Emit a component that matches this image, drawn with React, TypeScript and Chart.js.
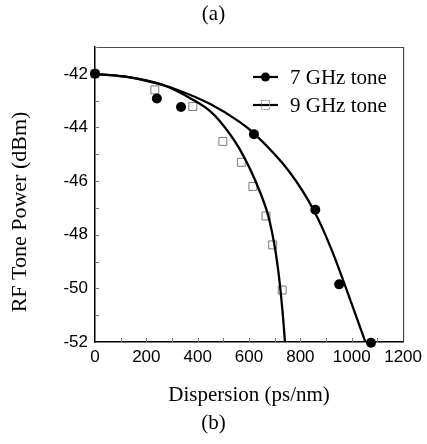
import React, { useEffect, useRef } from "react";
import { Chart, registerables } from "chart.js";

Chart.register(...registerables);

const xTickValues = [0, 200, 400, 600, 800, 1000, 1200];
const yTickValues = [-52, -50, -48, -46, -44, -42];

const seriesLabels = ["7 GHz tone", "9 GHz tone"];
const xTitle = "Dispersion (ps/nm)";
const yTitle = "RF Tone Power (dBm)";
const topCaption = "(a)";
const bottomCaption = "(b)";

const tone7Dispersion = [0, 241, 335, 619, 858, 951, 1075];
const tone7Power = [-42.0, -42.92, -43.24, -44.25, -47.07, -49.85, -52.03];

const tone9Dispersion = [0, 233, 381, 498, 570, 615, 666, 692, 729];
const tone9Power = [-42.0, -42.6, -43.22, -44.52, -45.3, -46.2, -47.3, -48.38, -50.06];

const fit7Dispersion = [0, 136, 241, 330, 447, 563, 617, 757, 851, 919, 1010, 1053];
const fit7Power = [-42.0, -42.13, -42.36, -42.63, -43.12, -43.79, -44.2, -45.65, -47.07, -48.5, -50.85, -52.0];

const fit9Dispersion = [0, 136, 252, 311, 369, 447, 485, 563, 641, 680, 711, 730, 740];
const fit9Power = [-42.0, -42.13, -42.37, -42.6, -42.9, -43.38, -43.75, -44.8, -46.37, -47.49, -49.13, -50.81, -52.0];

const pts = (xs: number[], ys: number[]) => xs.map((x, i) => ({ x, y: ys[i] }));

const SERIF = "'Liberation Serif', 'Times New Roman', serif";
const SANS = "'Liberation Sans', Arial, sans-serif";

const framePlugin = {
  id: "frameAndTicks",
  beforeDatasetsDraw(chart: any) {
    const { ctx, chartArea: a, scales } = chart;
    const xs = scales.x;
    const ys = scales.y;
    ctx.save();
    ctx.strokeStyle = "#4a4a4a";
    ctx.lineWidth = 1.2;
    ctx.beginPath();
    ctx.moveTo(a.left, a.top + 0.5);
    ctx.lineTo(a.right + 0.5, a.top + 0.5);
    ctx.lineTo(a.right + 0.5, a.bottom);
    ctx.stroke();
    ctx.strokeStyle = "#777";
    ctx.lineWidth = 1;
    ctx.beginPath();
    for (let v = -52; v <= -41; v += 1) {
      const y = Math.round(ys.getPixelForValue(v)) + 0.5;
      ctx.moveTo(a.left, y);
      ctx.lineTo(a.left + 4, y);
    }
    for (let v = 100; v < 1200; v += 100) {
      const x = Math.round(xs.getPixelForValue(v)) + 0.5;
      ctx.moveTo(x, a.bottom);
      ctx.lineTo(x, a.bottom - 4);
    }
    ctx.stroke();
    ctx.restore();
  },
  afterDraw(chart: any) {
    const { ctx, chartArea: a } = chart;
    ctx.save();
    ctx.fillStyle = "#000";
    ctx.font = `22px ${SERIF}`;
    ctx.textAlign = "center";
    ctx.textBaseline = "middle";
    ctx.translate(20, 212);
    ctx.rotate(-Math.PI / 2);
    ctx.fillText(yTitle, 0, 0);
    ctx.restore();

    ctx.save();
    const rows = [
      { y: a.top + 30, marker: "circle" },
      { y: a.top + 58, marker: "rect" },
    ];
    rows.forEach((r, i) => {
      const x0 = a.left + 158;
      const x1 = a.left + 183;
      ctx.strokeStyle = "#000";
      ctx.lineWidth = 2.2;
      ctx.beginPath();
      ctx.moveTo(x0, r.y);
      ctx.lineTo(x1, r.y);
      ctx.stroke();
      const cx = (x0 + x1) / 2;
      if (r.marker === "circle") {
        ctx.fillStyle = "#000";
        ctx.beginPath();
        ctx.arc(cx, r.y, 4.5, 0, Math.PI * 2);
        ctx.fill();
      } else {
        ctx.strokeStyle = "#888";
        ctx.lineWidth = 1;
        ctx.setLineDash([2, 1]);
        ctx.strokeRect(cx - 4, r.y - 4.5, 8, 9);
        ctx.setLineDash([]);
      }
      ctx.fillStyle = "#000";
      ctx.font = `21px ${SERIF}`;
      ctx.textBaseline = "middle";
      ctx.textAlign = "left";
      ctx.fillText(seriesLabels[i], a.left + 195, r.y + 1);
    });
    ctx.restore();
  },
};

export default function App() {
  const ref = useRef<HTMLCanvasElement>(null);
  useEffect(() => {
    document.body.style.margin = "0";
    const chart = new Chart(ref.current as HTMLCanvasElement, {
      type: "scatter",
      data: {
        datasets: [
          {
            label: seriesLabels[0],
            data: pts(tone7Dispersion, tone7Power),
            pointStyle: "circle",
            pointRadius: 5,
            backgroundColor: "#000",
            borderColor: "#000",
            borderWidth: 0,
            showLine: false,
            clip: false,
            order: 0,
          },
          {
            label: seriesLabels[1],
            data: pts(tone9Dispersion, tone9Power),
            pointStyle: "rect",
            pointRadius: 5.6,
            backgroundColor: "rgba(255,255,255,0)",
            borderColor: "#7a7a7a",
            borderWidth: 1,
            showLine: false,
            clip: false,
            order: 3,
          },
          {
            label: "fit7",
            data: pts(fit7Dispersion, fit7Power),
            showLine: true,
            pointRadius: 0,
            borderColor: "#000",
            borderWidth: 2.3,
            cubicInterpolationMode: "monotone",
            order: 1,
          },
          {
            label: "fit9",
            data: pts(fit9Dispersion, fit9Power),
            showLine: true,
            pointRadius: 0,
            borderColor: "#000",
            borderWidth: 2.3,
            cubicInterpolationMode: "monotone",
            order: 2,
          },
        ],
      },
      options: {
        responsive: false,
        animation: false,
        layout: { padding: 0 },
        plugins: {
          legend: { display: false },
          tooltip: { enabled: false },
          title: {
            display: true,
            text: topCaption,
            color: "#000",
            font: { family: SERIF, size: 21, weight: "normal", lineHeight: 1.2 },
            padding: { top: 1.4, bottom: 20.4 },
          },
          subtitle: {
            display: true,
            position: "bottom",
            text: bottomCaption,
            color: "#000",
            font: { family: SERIF, size: 21, weight: "normal", lineHeight: 1.2 },
            padding: { top: 0, bottom: 8.4 },
          },
        },
        scales: {
          x: {
            type: "linear",
            min: 0,
            max: 1200,
            afterFit: (s: any) => {
              s.height = 68.4;
            },
            afterBuildTicks: (s: any) => {
              s.ticks = xTickValues.map((v) => ({ value: v }));
            },
            grid: { display: false, drawTicks: false },
            border: { display: true, color: "#000", width: 1.5 },
            ticks: {
              color: "#000",
              padding: 5,
              maxRotation: 0,
              font: { family: SANS, size: 17 },
              callback: (v: any) => String(v),
            },
            title: {
              display: true,
              text: xTitle,
              color: "#000",
              font: { family: SERIF, size: 21, lineHeight: 1.2 },
              padding: { top: 0, bottom: 2.8 },
            },
          },
          y: {
            type: "linear",
            min: -52,
            max: -41,
            afterFit: (s: any) => {
              s.width = 95;
            },
            afterBuildTicks: (s: any) => {
              s.ticks = yTickValues.map((v) => ({ value: v }));
            },
            grid: { display: false, drawTicks: false },
            border: { display: true, color: "#000", width: 1.5 },
            ticks: {
              color: "#000",
              padding: 7,
              font: { family: SANS, size: 17 },
              callback: (v: any) => String(v),
            },
            title: { display: false },
          },
          yRight: {
            type: "linear",
            position: "right",
            min: -52,
            max: -41,
            afterFit: (s: any) => {
              s.width = 23;
            },
            grid: { display: false, drawTicks: false },
            border: { display: false },
            ticks: { display: false },
            title: { display: false },
          },
        },
      },
      plugins: [framePlugin],
    } as any);
    return () => chart.destroy();
  }, []);
  return (
    <div style={{ position: "absolute", left: 0, top: 0, width: 427, height: 444, background: "#fff" }}>
      <canvas ref={ref} width={427} height={444} style={{ width: 427, height: 444 }} />
    </div>
  );
}
